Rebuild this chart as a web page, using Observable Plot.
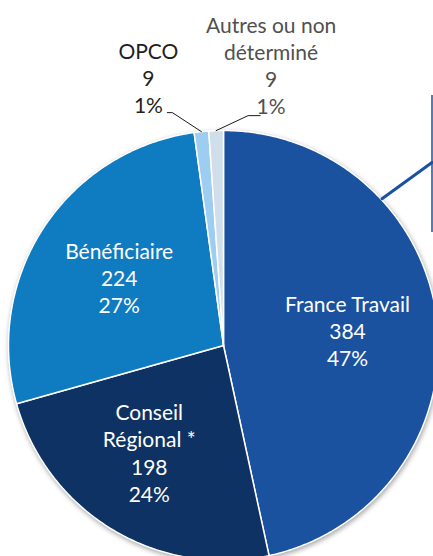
<!DOCTYPE html>
<html><head><meta charset="utf-8">
<script src="https://cdn.jsdelivr.net/npm/d3@7"></script>
<script src="https://cdn.jsdelivr.net/npm/@observablehq/plot@0.6"></script>
<style>
html,body{margin:0;padding:0;background:#fff;overflow:hidden;}
.pie-slices{filter:drop-shadow(1.5px 2px 2.5px rgba(0,0,0,0.35));}
</style></head><body><div id="chart"></div>
<script>
// ---- data ----
const categories = ["France Travail", "Conseil Régional *", "Bénéficiaire", "OPCO", "Autres ou non déterminé"];
const values = [384, 198, 224, 9, 9];
const percents = ["47%", "24%", "27%", "1%", "1%"];
const labelLines = [["France Travail"], ["Conseil", "Régional *"], ["Bénéficiaire"], ["OPCO"], ["Autres ou non", "déterminé"]];
const sliceColors = ["#1a52a0", "#0e3263", "#0f7bc1", "#9dcdf0", "#d0deec"];

// ---- layout ----
const W = 433, H = 556, CX = 223, CY = 345, R = 215;
const FONT = "Lato, 'Open Sans', sans-serif";
const toX = px => (px - CX) / R;       // pixel -> data
const toY = py => (CY - py) / R;
const pt = (a, r) => [r * Math.sin(a), r * Math.cos(a)];

const arcs = d3.pie().sort(null).value(d => d)(values);

const slicePts = [];
arcs.forEach((a, i) => {
  const n = Math.max(6, Math.ceil((a.endAngle - a.startAngle) / (Math.PI / 360)));
  slicePts.push({cat: categories[i], x: 0, y: 0});
  for (let k = 0; k <= n; k++) {
    const t = a.startAngle + (a.endAngle - a.startAngle) * k / n;
    const [x, y] = pt(t, 1);
    slicePts.push({cat: categories[i], x, y});
  }
  slicePts.push({cat: categories[i], x: 0, y: 0});
});

const labelText = i => [...labelLines[i], String(values[i]), percents[i]].join("\n");
const mid = a => (a.startAngle + a.endAngle) / 2;

// inside labels (big slices), with small pixel nudges
const insideNudge = {0: [0, -2], 1: [-10, 0], 2: [0, 0]};
const inside = [0, 1, 2].map(i => {
  const [x, y] = pt(mid(arcs[i]), 0.58);
  return {x: x + insideNudge[i][0] / R, y: y - insideNudge[i][1] / R, text: labelText(i)};
});

// outside callouts (small slices): offsets in px from slice edge
const callout = {
  3: {elbow: [-29, -19], end: [-34, -19], label: [-53, -54], color: "#1f1f1f"},
  4: {elbow: [32, -15], end: [44, -15], label: [55, -66], color: "#505050"}
};
const leaderPts = [], outside = [];
for (const i of [3, 4]) {
  const [ex, ey] = pt(mid(arcs[i]), 1);
  const c = callout[i];
  const e = [CX + ex * R, CY - ey * R];
  leaderPts.push({k: i, x: ex, y: ey});
  leaderPts.push({k: i, x: toX(e[0] + c.elbow[0]), y: toY(e[1] + c.elbow[1])});
  leaderPts.push({k: i, x: toX(e[0] + c.end[0]), y: toY(e[1] + c.end[1])});
  outside.push({x: toX(e[0] + c.label[0]), y: toY(e[1] + c.label[1]), text: labelText(i), color: c.color});
}

// France Travail callout box (cropped at right edge)
const ftAngle = 47.2 * Math.PI / 180;
const [fx, fy] = pt(ftAngle, 1.005);
const ftLeader = [{x: fx, y: fy}, {x: toX(W - 1.5), y: toY(162)}];
const ftBox = {x: toX(W - 1.5), y1: toY(95), y2: toY(232)};

const chart = Plot.plot({
  width: W, height: H,
  margin: 0,
  style: {fontFamily: FONT, background: "#fff"},
  x: {domain: [toX(0), toX(W)], range: [0, W], axis: null},
  y: {domain: [toY(H), toY(0)], range: [H, 0], axis: null},
  color: {domain: categories, range: sliceColors},
  marks: [
    Plot.line(slicePts, {x: "x", y: "y", z: "cat", fill: "cat", stroke: "white", strokeWidth: 1.5, strokeLinejoin: "round", className: "pie-slices"}),
    Plot.text(inside, {x: "x", y: "y", text: "text", fill: "white", fontSize: 21, lineHeight: 1.29, fontFamily: FONT}),
    Plot.line(leaderPts, {x: "x", y: "y", z: "k", stroke: "#1a1a1a", strokeWidth: 1}),
    Plot.text(outside, {x: "x", y: "y", text: "text", fill: "color", fontSize: 21, lineHeight: 1.29, fontFamily: FONT}),
    Plot.line(ftLeader, {x: "x", y: "y", stroke: "#1a52a0", strokeWidth: 3}),
    Plot.ruleX([ftBox], {x: "x", y1: "y1", y2: "y2", stroke: "#1a52a0", strokeWidth: 1.5})
  ]
});
document.getElementById("chart").appendChild(chart);
</script></body></html>
